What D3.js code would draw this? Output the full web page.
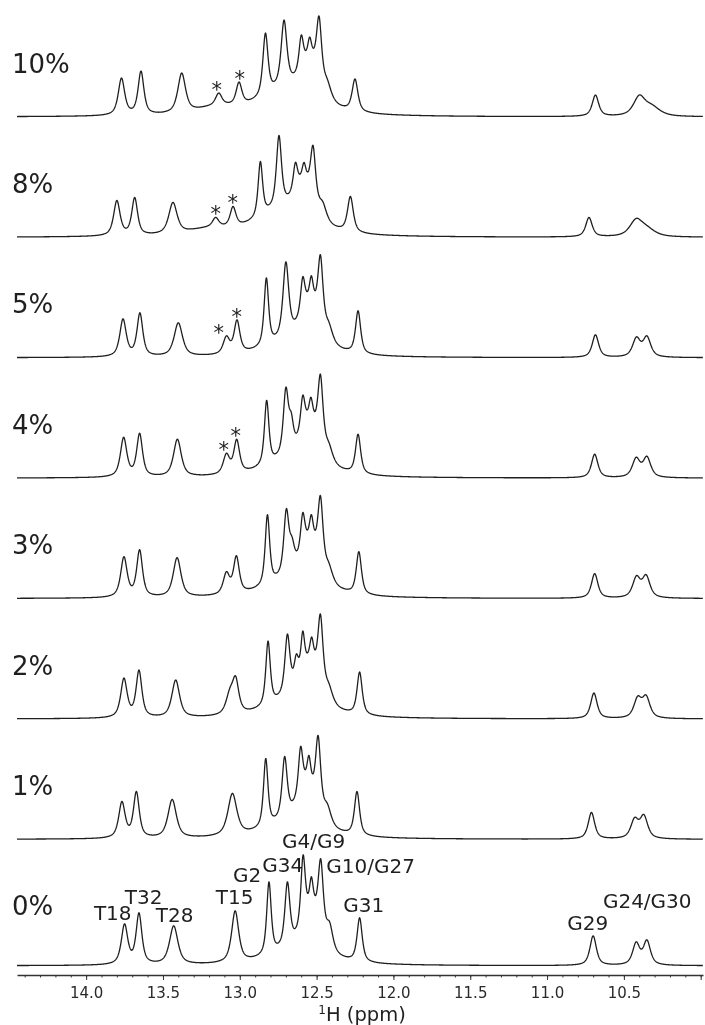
<!DOCTYPE html>
<html>
<head>
<meta charset="utf-8">
<script src="https://cdn.jsdelivr.net/npm/d3@7"></script>
<style>
  html, body { margin: 0; padding: 0; background: #fff; }
  svg { display: block; font-family: "DejaVu Sans", Verdana, sans-serif; will-change: transform; }
</style>
</head>
<body>
<svg id="chart" width="705" height="1025"></svg>
<script>
// Imino proton region, one trace per co-solvent percentage (top to bottom)
const spectra = ["10%", "8%", "5%", "4%", "3%", "2%", "1%", "0%"];

// Resolved resonances: [chemical shift (ppm), apex intensity, line width FWHM (ppm)]
const peaks10 = [[13.77, 39, .05], [13.643, 46, .045], [13.378, 44, .06], [13.137, 24, .05], [13.005, 35, .045],
  [12.833, 84, .04], [12.712, 97, .045], [12.60, 82, .035], [12.545, 80, .03], [12.484, 101, .04], [12.43, 38, .06],
  [12.25, 38, .045], [10.685, 22, .05], [10.40, 22, .09], [10.32, 13, .13]];
const peaks8 = [[13.80, 37, .05], [13.684, 40, .045], [13.435, 35, .065], [13.157, 20, .05], [13.044, 31, .045],
  [12.866, 76, .035], [12.745, 102, .04], [12.638, 75, .035], [12.582, 75, .03], [12.523, 92, .04], [12.46, 36, .06],
  [12.28, 41, .045], [10.727, 20, .05], [10.42, 19, .1], [10.35, 12, .13]];
const peaks5 = [[13.76, 39, .05], [13.65, 45, .045], [13.40, 35, .065], [13.087, 22, .05], [13.018, 38, .045],
  [12.827, 80, .035], [12.70, 96, .045], [12.59, 81, .035], [12.534, 82, .03], [12.475, 103, .04], [12.42, 36, .06],
  [12.23, 47, .04], [10.685, 23, .05], [10.418, 21, .06], [10.35, 22, .06]];
const peaks4 = [[13.756, 41, .05], [13.652, 45, .045], [13.406, 39, .06], [13.087, 25, .05], [13.02, 39, .045],
  [12.825, 78, .035], [12.70, 91, .04], [12.665, 66, .035], [12.59, 83, .035], [12.537, 81, .03], [12.475, 104, .04],
  [12.42, 36, .06], [12.23, 44, .04], [10.69, 24, .05], [10.42, 21, .06], [10.35, 22, .06]];
const peaks3 = [[13.754, 42, .05], [13.652, 49, .045], [13.408, 41, .06], [13.087, 27, .05], [13.022, 43, .045],
  [12.82, 84, .035], [12.697, 90, .04], [12.66, 62, .04], [12.59, 86, .035], [12.534, 84, .03], [12.475, 103, .04],
  [12.42, 36, .06], [12.225, 47, .04], [10.69, 25, .05], [10.418, 23, .06], [10.355, 24, .06]];
const peaks2 = [[13.754, 41, .05], [13.656, 49, .045], [13.417, 39, .06], [13.065, 31, .06], [13.027, 43, .05],
  [12.816, 78, .035], [12.69, 85, .04], [12.632, 65, .035], [12.59, 88, .03], [12.532, 82, .03], [12.475, 105, .04],
  [12.42, 36, .06], [12.22, 47, .04], [10.695, 26, .05], [10.41, 23, .06], [10.355, 24, .06]];
const peaks1 = [[13.767, 38, .05], [13.673, 48, .045], [13.44, 40, .065], [13.048, 46, .07],
  [12.831, 81, .035], [12.708, 83, .04], [12.604, 93, .035], [12.55, 84, .03], [12.49, 104, .04], [12.43, 36, .06],
  [12.237, 48, .04], [10.711, 27, .05], [10.43, 22, .06], [10.37, 25, .06]];
const peaks0 = [[13.75, 42, .05], [13.656, 53, .045], [13.43, 40, .065], [13.03, 55, .055],
  [12.81, 84, .035], [12.69, 84, .04], [12.588, 111, .035], [12.534, 89, .03], [12.473, 107, .04], [12.415, 44, .05],
  [12.22, 48, .04], [10.70, 30, .05], [10.42, 24, .055], [10.35, 26, .055]];

// Broad underlying envelopes: [centre (ppm), intensity, FWHM (ppm)]
const broad10 = [[13.15, 7, .35], [12.54, 38, .15], [12.70, 24, .4]];
const broad8 = [[13.2, 6, .35], [12.58, 36, .15], [12.73, 24, .4]];
const broad5 = [[12.54, 40, .15], [12.66, 14, .4]];
const broad4 = [[12.54, 40, .15], [12.66, 16, .4]];
const broad3 = [[12.54, 40, .15], [12.66, 16, .4]];
const broad2 = [[12.54, 40, .15], [12.66, 16, .4]];
const broad1 = [[12.56, 38, .15], [12.67, 14, .4]];
const broad0 = [[12.53, 40, .15], [12.65, 12, .4]];

// "*" marks: [mark position (ppm), shift of the flagged peak (ppm)]
const stars10 = [[13.15, 13.137], [13.0, 13.005]];
const stars8 = [[13.157, 13.157], [13.046, 13.044]];
const stars5 = [[13.137, 13.087], [13.02, 13.018]];
const stars4 = [[13.105, 13.087], [13.027, 13.02]];
const stars3 = [], stars2 = [], stars1 = [], stars0 = [];

// Assignments written over the 0% trace
const assignLabels = ["T18", "T32", "T28", "T15", "G2", "G34", "G4/G9", "G10/G27", "G31", "G29", "G24/G30"];
const assignShifts = [13.827, 13.626, 13.424, 13.033, 12.952, 12.72, 12.519, 12.148, 12.193, 10.735, 10.348];

const axisMajor = [14.0, 13.5, 13.0, 12.5, 12.0, 11.5, 11.0, 10.5, 10.0];
const axisLabels = ["14.0", "13.5", "13.0", "12.5", "12.0", "11.5", "11.0", "10.5", ""];

const peakSets = [peaks10, peaks8, peaks5, peaks4, peaks3, peaks2, peaks1, peaks0];
const broadSets = [broad10, broad8, broad5, broad4, broad3, broad2, broad1, broad0];
const starSets = [stars10, stars8, stars5, stars4, stars3, stars2, stars1, stars0];

// ---- layout ----
const svg = d3.select("#chart");
const x = d3.scaleLinear().domain([14.45, 9.985]).range([17, 703]);
const y = d3.scaleLinear().domain([0, 100]).range([0, -100]);
const rowTop = i => 117 + i * 120.4;
const rowBase = i => rowTop(i) + (i === spectra.length - 1 ? 6 : 0);
const labelLift = [46, 62, 44, 62, 84, 94, 118, 93, 54, 36, 58];

// pseudo-Voigt line shape (mostly Lorentzian)
const ETA = 0.72;
function shape(d, w) {
  const u = d / w;
  return ETA / (1 + 4 * u * u) + (1 - ETA) * Math.exp(-4 * Math.LN2 * u * u);
}

// amplitudes so that the summed trace reaches each listed apex intensity
function buildTrace(peaks, broad) {
  const bg = p => d3.sum(broad, b => b[1] * shape(p - b[0], b[2]));
  const amp = peaks.map(p => Math.max(0, p[1] - bg(p[0])));
  for (let it = 0; it < 300; it++) {
    peaks.forEach((p, i) => {
      let other = bg(p[0]);
      peaks.forEach((q, j) => { if (j !== i) other += amp[j] * shape(p[0] - q[0], q[2]); });
      amp[i] = Math.max(0, p[1] - other);
    });
  }
  return p => bg(p) + d3.sum(peaks, (q, j) => amp[j] * shape(p - q[0], q[2]));
}

const grid = d3.range(14.45, 9.985, -0.002);
const line = d3.line().x(d => x(d[0])).y(d => y(d[1]));

spectra.forEach((name, i) => {
  const trace = buildTrace(peakSets[i], broadSets[i]);
  const g = svg.append("g").attr("transform", `translate(0,${rowBase(i)})`);
  g.append("path")
    .datum(grid.map(p => [p, trace(p)]))
    .attr("d", line)
    .attr("fill", "none")
    .attr("stroke", "#1f1f1f")
    .attr("stroke-width", 1.3)
    .attr("stroke-linejoin", "round");

  g.selectAll("text.star")
    .data(starSets[i])
    .join("text")
    .attr("class", "star")
    .attr("x", s => x(s[0]))
    .attr("y", s => y(trace(s[1])) + 4)
    .attr("text-anchor", "middle")
    .attr("font-size", 21)
    .attr("fill", "#1f1f1f")
    .text("*");

  svg.append("text")
    .attr("x", 12)
    .attr("y", rowTop(i) - 44.5)
    .attr("font-size", 26)
    .attr("fill", "#1f1f1f")
    .text(name);
});

// assignment labels over the bottom trace
const base0 = rowBase(spectra.length - 1);
svg.selectAll("text.assign")
  .data(assignLabels)
  .join("text")
  .attr("class", "assign")
  .attr("x", (d, k) => x(assignShifts[k]))
  .attr("y", (d, k) => base0 - labelLift[k])
  .attr("text-anchor", "middle")
  .attr("font-size", 20)
  .attr("fill", "#1f1f1f")
  .text(d => d);

// chemical shift axis
const axisY = 975;
const minor = d3.range(100, 145).map(v => v / 10);
svg.append("g")
  .attr("transform", `translate(0,${axisY})`)
  .call(d3.axisBottom(x).tickValues(minor).tickSize(2.5).tickSizeOuter(0).tickFormat(""))
  .call(g => g.select(".domain").remove())
  .call(g => g.selectAll("line").attr("stroke", "#333"));
const ax = svg.append("g")
  .attr("transform", `translate(0,${axisY})`)
  .call(d3.axisBottom(x).tickValues(axisMajor).tickSize(5).tickSizeOuter(0).tickPadding(7)
    .tickFormat((d, k) => axisLabels[k]));
ax.select(".domain").attr("stroke", "#333").attr("stroke-width", 1.3);
ax.selectAll("line").attr("stroke", "#333");
ax.selectAll("text").attr("font-size", 15).attr("fill", "#2a2a2a")
  .attr("font-family", "'DejaVu Sans', Verdana, sans-serif");

const title = svg.append("text")
  .attr("x", 362)
  .attr("y", 1021)
  .attr("text-anchor", "middle")
  .attr("font-size", 19.5)
  .attr("fill", "#1f1f1f");
title.append("tspan").attr("font-size", 12).attr("dy", -7).text("1");
title.append("tspan").attr("dy", 7).text("H (ppm)");
</script>
</body>
</html>
